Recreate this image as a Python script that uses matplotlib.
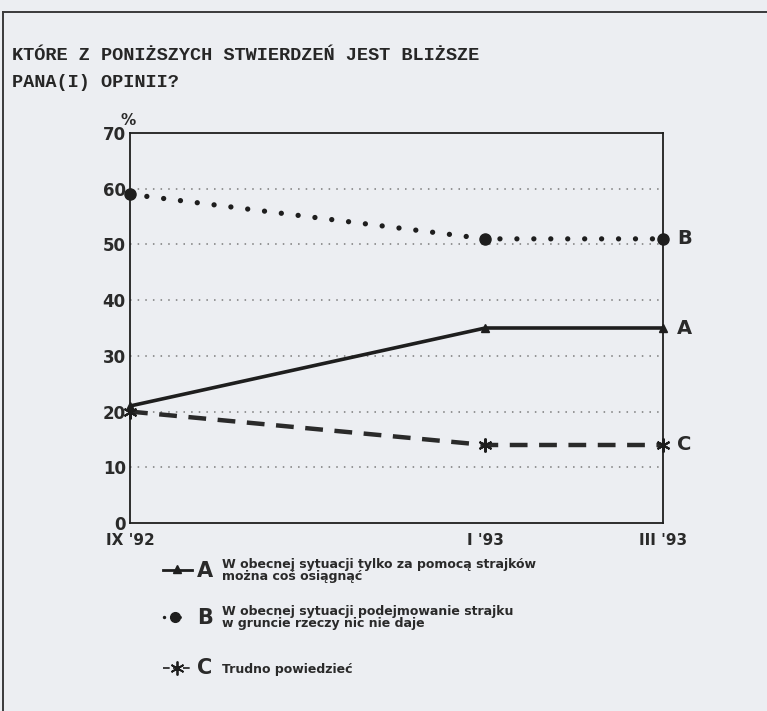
import matplotlib
matplotlib.use('Agg')
import matplotlib.pyplot as plt
from matplotlib.lines import Line2D

# ---- data ----
months = [0, 4, 6]                       # months after IX '92
period_labels = ["IX '92", "I '93", "III '93"]
series_a = [21, 35, 35]
series_b = [59, 51, 51]
series_c = [20, 14, 14]
y_ticks = [0, 10, 20, 30, 40, 50, 60, 70]
title_lines = ["KTÓRE Z PONIŻSZYCH STWIERDZEŃ JEST BLIŻSZE", "PANA(I) OPINII?"]
legend_a = ["W obecnej sytuacji tylko za pomocą strajków", "można coś osiągnąć"]
legend_b = ["W obecnej sytuacji podejmowanie strajku", "w gruncie rzeczy nic nie daje"]
legend_c = ["Trudno powiedzieć"]
letters = ["A", "B", "C"]

W, H = 767, 711
BG = '#eceef2'
INK = '#1e1e1e'
SANS = ['DejaVu Sans']
MONO = ['Liberation Mono', 'DejaVu Sans Mono']

fig = plt.figure(figsize=(W / 100, H / 100), dpi=100, facecolor=BG)


def fx(px):
    return px / W


def fy(py):
    return 1 - py / H


# outer frame (top and left edges)
fig.add_artist(Line2D([fx(3), 1], [fy(12), fy(12)], color='#3a3a3a', lw=1.4))
fig.add_artist(Line2D([fx(3), fx(3)], [fy(12), 0], color='#3a3a3a', lw=1.4))

# title
fig.text(fx(12), fy(60), title_lines[0], family=MONO, weight='bold',
         fontsize=13.4, color='#262626', va='baseline', ha='left')
fig.text(fx(12), fy(87), title_lines[1], family=MONO, weight='bold',
         fontsize=13.4, color='#262626', va='baseline', ha='left')

ax = fig.add_axes([fx(130), fy(523), fx(663) - fx(130), fy(133) - fy(523)])
ax.set_facecolor(BG)
ax.set_xlim(months[0], months[-1])
ax.set_ylim(y_ticks[0], y_ticks[-1])

for s in ax.spines.values():
    s.set_color(INK)
    s.set_linewidth(1.3)

ax.set_yticks(y_ticks)
ax.set_yticklabels([str(v) for v in y_ticks], family=SANS, weight='bold',
                   fontsize=12, color='#2a2a2a')
ax.set_xticks(months)
ax.set_xticklabels(period_labels, family=SANS, weight='bold', fontsize=11,
                   color='#2a2a2a')
ax.tick_params(axis='y', length=0, pad=3)
ax.tick_params(axis='x', length=0, pad=7)

for v in y_ticks[1:-1]:
    ax.axhline(v, color='#7a7a7a', lw=1.1, linestyle=(0, (1, 4)), zorder=1)

ax.text(-0.004, 1.012, '%', transform=ax.transAxes, family=SANS,
        weight='bold', fontsize=11, color='#2a2a2a', ha='center', va='bottom')

# series A: solid with triangles
ax.plot(months, series_a, color=INK, lw=2.6, solid_capstyle='butt',
        marker='^', ms=6, zorder=4, clip_on=False)
# series B: round dots
ax.plot(months, series_b, color=INK, lw=3.8, linestyle=(0, (0.01, 3.2)),
        dash_capstyle='round', zorder=4, clip_on=False)
ax.plot(months, series_b, color=INK, lw=0, marker='o', ms=8, zorder=5,
        clip_on=False)
# series C: heavy dashes with asterisks
ax.plot(months, series_c, color='#2a2a2a', lw=3.2, linestyle=(0, (4, 2.6)),
        dash_capstyle='butt', zorder=3, clip_on=False)
ax.plot(months, series_c, color=INK, lw=0, marker=(6, 2, 0), ms=10, mew=1.5,
        zorder=5, clip_on=False)

# end labels
for letter, ser in zip(letters, [series_a, series_b, series_c]):
    ax.annotate(letter, (months[-1], ser[-1]), xytext=(10, 0),
                textcoords='offset points', family=SANS, weight='bold',
                fontsize=14, color='#2a2a2a', va='center', ha='left',
                annotation_clip=False)

# legend (manual)
# A sample
fig.add_artist(Line2D([fx(163), fx(192)], [fy(570), fy(570)], color=INK, lw=2))
fig.add_artist(Line2D([fx(177)], [fy(569)], color=INK, marker='^', ms=6, lw=0))
# B sample
fig.add_artist(Line2D([fx(164), fx(187)], [fy(617), fy(617)], color=INK, lw=2.5,
                      linestyle=(0, (0.01, 4.5)), dash_capstyle='round'))
fig.add_artist(Line2D([fx(175)], [fy(617)], color=INK, marker='o', ms=7, lw=0))
# C sample
fig.add_artist(Line2D([fx(163), fx(191)], [fy(668), fy(668)], color=INK, lw=1.2,
                      linestyle=(0, (4, 2))))
fig.add_artist(Line2D([fx(177)], [fy(668)], color=INK, marker=(6, 2, 0), ms=10,
                      mew=1.3, lw=0))

letter_y = [571, 618, 668]
for letter, ly in zip(letters, letter_y):
    fig.text(fx(197), fy(ly), letter, family=SANS, weight='bold', fontsize=15,
             color='#2a2a2a', va='center', ha='left')

legend_texts = [legend_a, legend_b, legend_c]
first_baseline = [568, 615, 673]
for lines, b0 in zip(legend_texts, first_baseline):
    for i, line in enumerate(lines):
        fig.text(fx(222), fy(b0 + 12 * i), line, family=SANS, weight='bold',
                 fontsize=9, color='#2a2a2a', va='baseline', ha='left')

fig.savefig('out.png', dpi=100, facecolor=BG)
